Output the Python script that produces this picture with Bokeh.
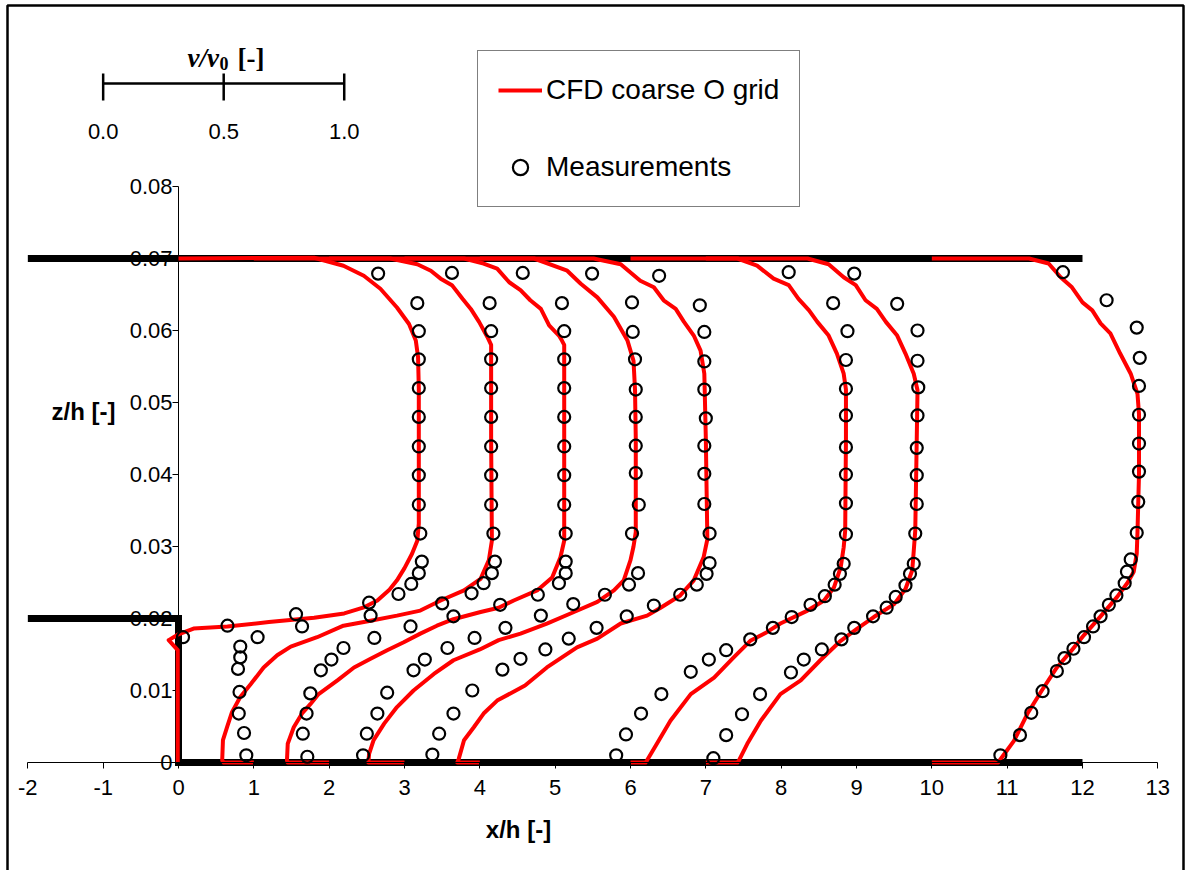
from bokeh.plotting import figure
from bokeh.models import (Range1d, FixedTicker, NumeralTickFormatter, Label,
                          Legend, LegendItem)
from bokeh.embed import file_html
from bokeh.resources import INLINE
from bokeh.core.properties import value

# ---------------- data (x/h position of profile, z/h) ----------------
cfd0_x = [-0.01, -0.01, -0.13, 0.0, 0.2, 0.65, 1.2, 1.8, 2.2, 2.45, 2.64, 2.8, 2.9, 3.0, 3.1, 3.17, 3.19, 3.19, 3.19, 3.18, 3.15, 3.06, 2.9, 2.68, 2.46, 2.19, 1.8, 0.0]
cfd0_z = [0.0, 0.0156, 0.0170, 0.0178, 0.0186, 0.0189, 0.0195, 0.0201, 0.0207, 0.0215, 0.0225, 0.0240, 0.0253, 0.0270, 0.0290, 0.0308, 0.0332, 0.0450, 0.0519, 0.0563, 0.0586, 0.0609, 0.0632, 0.0658, 0.0676, 0.0690, 0.0701, 0.0700]

cfd1_x = [1.0, 0.60, 0.58, 0.59, 0.65, 0.71, 0.82, 0.96, 1.13, 1.31, 1.49, 1.84, 2.19, 2.55, 2.90, 3.21, 3.48, 3.79, 4.01, 4.12, 4.16, 4.15, 4.15, 4.10, 3.99, 3.88, 3.77, 3.63, 3.48, 3.35, 3.17, 2.81, 1.0]
cfd1_z = [0.0, 0.0, 0.0003, 0.0031, 0.0051, 0.0070, 0.0091, 0.0109, 0.0132, 0.0149, 0.0161, 0.0174, 0.0190, 0.0197, 0.0204, 0.0211, 0.0225, 0.0239, 0.0255, 0.0281, 0.0308, 0.0450, 0.0580, 0.0591, 0.0612, 0.0630, 0.0644, 0.0663, 0.0672, 0.0683, 0.0692, 0.0700, 0.0700]

cfd2_x = [2.0, 1.45, 1.44, 1.45, 1.53, 1.64, 1.75, 1.86, 2.11, 2.33, 2.55, 2.77, 2.99, 3.21, 3.43, 3.65, 4.01, 4.25, 4.45, 4.76, 4.96, 5.07, 5.12, 5.12, 5.12, 5.09, 5.05, 4.92, 4.81, 4.67, 4.54, 4.39, 4.23, 4.05, 3.79, 2.0]
cfd2_z = [0.0, 0.0, 0.0003, 0.0026, 0.0049, 0.0068, 0.0081, 0.0095, 0.0114, 0.0132, 0.0144, 0.0156, 0.0167, 0.0179, 0.0190, 0.0199, 0.0209, 0.0215, 0.0225, 0.0239, 0.0257, 0.0285, 0.0308, 0.0450, 0.0580, 0.0586, 0.0593, 0.0607, 0.0630, 0.0642, 0.0656, 0.0667, 0.0686, 0.0693, 0.0700, 0.0700]

cfd3_x = [3.0, 2.52, 2.53, 2.59, 2.73, 2.90, 3.12, 3.39, 3.65, 4.00, 4.25, 4.54, 4.89, 5.25, 5.56, 5.78, 5.91, 6.00, 6.04, 6.07, 6.07, 6.06, 6.04, 5.96, 5.78, 5.56, 5.34, 5.16, 4.72, 3.0]
cfd3_z = [0.0, 0.0, 0.0012, 0.0031, 0.0054, 0.0077, 0.0100, 0.0123, 0.0142, 0.0157, 0.0170, 0.0179, 0.0193, 0.0209, 0.0223, 0.0239, 0.0253, 0.0281, 0.0300, 0.0320, 0.0450, 0.0518, 0.0558, 0.0586, 0.0619, 0.0646, 0.0665, 0.0683, 0.0700, 0.0700]

cfd4_x = [4.0, 3.70, 3.72, 3.79, 3.92, 4.05, 4.23, 4.60, 4.89, 5.29, 5.56, 5.87, 6.22, 6.40, 6.66, 6.84, 6.97, 7.02, 7.00, 6.98, 6.93, 6.84, 6.71, 6.60, 6.44, 6.31, 6.13, 5.87, 5.51, 4.0]
cfd4_z = [0.0, 0.0, 0.0005, 0.0031, 0.0049, 0.0068, 0.0086, 0.0107, 0.0132, 0.0160, 0.0172, 0.0193, 0.0204, 0.0215, 0.0232, 0.0253, 0.0285, 0.0310, 0.0450, 0.0540, 0.0572, 0.0593, 0.0612, 0.0630, 0.0642, 0.0660, 0.0669, 0.0692, 0.0700, 0.0700]

cfd6_x = [6.0, 6.20, 6.22, 6.35, 6.53, 6.80, 7.11, 7.37, 7.59, 7.81, 7.99, 8.35, 8.57, 8.70, 8.79, 8.83, 8.85, 8.86, 8.86, 8.83, 8.74, 8.63, 8.48, 8.37, 8.23, 8.10, 7.90, 7.68, 7.42, 6.0]
cfd6_z = [0.0, 0.0, 0.0003, 0.0026, 0.0058, 0.0095, 0.0118, 0.0146, 0.0169, 0.0181, 0.0193, 0.0211, 0.0225, 0.0243, 0.0271, 0.0299, 0.0322, 0.0450, 0.0518, 0.0540, 0.0568, 0.0593, 0.0612, 0.0628, 0.0644, 0.0663, 0.0672, 0.0690, 0.0700, 0.0700]

cfd7_x = [7.0, 7.42, 7.44, 7.55, 7.73, 7.99, 8.26, 8.52, 8.79, 9.01, 9.23, 9.50, 9.65, 9.74, 9.76, 9.78, 9.80, 9.81, 9.76, 9.65, 9.54, 9.39, 9.27, 9.12, 8.99, 8.83, 8.63, 8.35, 7.0]
cfd7_z = [0.0, 0.0, 0.0003, 0.0026, 0.0058, 0.0095, 0.0114, 0.0142, 0.0169, 0.0186, 0.0202, 0.0220, 0.0241, 0.0267, 0.0294, 0.0322, 0.0450, 0.0517, 0.0540, 0.0568, 0.0593, 0.0612, 0.0630, 0.0642, 0.0663, 0.0674, 0.0692, 0.0700, 0.0700]

cfd10_x = [10.0, 10.88, 10.95, 11.09, 11.27, 11.46, 11.66, 11.85, 12.02, 12.24, 12.46, 12.60, 12.68, 12.72, 12.73, 12.75, 12.75, 12.73, 12.64, 12.50, 12.37, 12.24, 12.13, 12.00, 11.86, 11.71, 11.55, 11.29, 10.0]
cfd10_z = [0.0, 0.0, 0.0010, 0.0030, 0.0068, 0.0100, 0.0132, 0.0155, 0.0177, 0.0203, 0.0230, 0.0250, 0.0265, 0.0290, 0.0320, 0.0400, 0.0484, 0.0512, 0.0540, 0.0568, 0.0596, 0.0610, 0.0628, 0.0639, 0.0660, 0.0674, 0.0693, 0.0700, 0.0700]

meas0_x = [0.06, 0.65, 1.56, 2.53, 2.92, 3.09, 3.19, 3.23, 3.21, 3.19, 3.19, 3.19, 3.19, 3.19, 3.19, 3.19, 3.17, 2.65]
meas0_z = [0.0174, 0.0190, 0.0206, 0.0222, 0.0234, 0.0248, 0.0263, 0.0279, 0.0318, 0.0358, 0.0399, 0.0439, 0.0480, 0.0520, 0.0560, 0.0599, 0.0638, 0.0679]

meas1_x = [0.90, 0.87, 0.80, 0.81, 0.79, 0.82, 0.82, 1.05, 1.64, 2.55, 3.50, 3.89, 4.05, 4.16, 4.20, 4.18, 4.15, 4.15, 4.15, 4.15, 4.15, 4.15, 4.15, 4.13, 3.63]
meas1_z = [0.0010, 0.0041, 0.0068, 0.0098, 0.0130, 0.0146, 0.0161, 0.0174, 0.0189, 0.0204, 0.0221, 0.0235, 0.0249, 0.0263, 0.0279, 0.0318, 0.0358, 0.0399, 0.0439, 0.0480, 0.0520, 0.0560, 0.0599, 0.0638, 0.0680]

meas2_x = [1.71, 1.65, 1.70, 1.75, 1.89, 2.03, 2.19, 2.60, 3.08, 3.65, 4.27, 4.77, 5.05, 5.14, 5.14, 5.14, 5.12, 5.12, 5.12, 5.12, 5.12, 5.12, 5.12, 5.09, 4.57]
meas2_z = [0.0008, 0.0040, 0.0068, 0.0096, 0.0128, 0.0143, 0.0159, 0.0173, 0.0189, 0.0203, 0.0219, 0.0233, 0.0249, 0.0263, 0.0279, 0.0318, 0.0358, 0.0399, 0.0439, 0.0480, 0.0520, 0.0560, 0.0599, 0.0638, 0.0680]

meas3_x = [2.45, 2.50, 2.64, 2.77, 3.12, 3.27, 3.57, 3.93, 4.34, 4.81, 5.24, 5.66, 5.98, 6.10, 6.02, 6.11, 6.07, 6.07, 6.07, 6.07, 6.06, 6.03, 6.02, 5.49]
meas3_z = [0.0010, 0.0040, 0.0068, 0.0097, 0.0128, 0.0143, 0.0159, 0.0173, 0.0187, 0.0204, 0.0220, 0.0233, 0.0247, 0.0263, 0.0318, 0.0358, 0.0402, 0.0440, 0.0480, 0.0518, 0.0560, 0.0598, 0.0639, 0.0679]

meas4_x = [3.37, 3.46, 3.65, 3.90, 4.30, 4.54, 4.87, 5.18, 5.55, 5.95, 6.31, 6.66, 6.88, 7.01, 7.05, 7.05, 6.98, 6.98, 6.98, 7.00, 6.98, 6.98, 6.98, 6.92, 6.38]
meas4_z = [0.0011, 0.0040, 0.0068, 0.0100, 0.0129, 0.0144, 0.0157, 0.0172, 0.0187, 0.0203, 0.0218, 0.0233, 0.0247, 0.0262, 0.0277, 0.0318, 0.0359, 0.0401, 0.0440, 0.0478, 0.0518, 0.0557, 0.0598, 0.0635, 0.0676]

meas6_x = [5.81, 5.94, 6.14, 6.41, 6.80, 7.04, 7.27, 7.59, 7.89, 8.14, 8.39, 8.58, 8.71, 8.78, 8.83, 8.86, 8.86, 8.86, 8.86, 8.86, 8.86, 8.86, 8.88, 8.69, 8.10]
meas6_z = [0.0010, 0.0039, 0.0068, 0.0095, 0.0126, 0.0143, 0.0156, 0.0171, 0.0187, 0.0202, 0.0219, 0.0231, 0.0247, 0.0262, 0.0276, 0.0317, 0.0360, 0.0400, 0.0438, 0.0482, 0.0519, 0.0559, 0.0599, 0.0638, 0.0681]

meas7_x = [7.10, 7.27, 7.48, 7.72, 8.13, 8.30, 8.54, 8.80, 8.97, 9.22, 9.40, 9.52, 9.65, 9.71, 9.76, 9.78, 9.80, 9.80, 9.80, 9.81, 9.82, 9.81, 9.81, 9.54, 8.97]
meas7_z = [0.0006, 0.0038, 0.0067, 0.0095, 0.0125, 0.0143, 0.0157, 0.0171, 0.0187, 0.0203, 0.0215, 0.0230, 0.0246, 0.0262, 0.0276, 0.0318, 0.0359, 0.0399, 0.0437, 0.0482, 0.0521, 0.0558, 0.0600, 0.0637, 0.0679]

meas10_x = [10.91, 11.17, 11.32, 11.47, 11.66, 11.76, 11.88, 12.02, 12.14, 12.24, 12.35, 12.45, 12.56, 12.59, 12.64, 12.72, 12.74, 12.75, 12.75, 12.75, 12.75, 12.76, 12.72, 12.32, 11.74]
meas10_z = [0.0010, 0.0038, 0.0069, 0.0099, 0.0127, 0.0145, 0.0158, 0.0174, 0.0189, 0.0203, 0.0219, 0.0232, 0.0249, 0.0265, 0.0282, 0.0319, 0.0362, 0.0404, 0.0443, 0.0483, 0.0523, 0.0562, 0.0604, 0.0642, 0.0681]

# channel walls
wall_top_x = [-2, 12]
wall_top_z = [0.07, 0.07]
wall_low_x = [-2, 0, 0, 12]
wall_low_z = [0.02, 0.02, 0.0, 0.0]

# axes
x_ticks = list(range(-2, 14))
z_ticks = [0.0, 0.01, 0.02, 0.03, 0.04, 0.05, 0.06, 0.07, 0.08]

# velocity scale bar (v/v0), drawn at x = scale_origin + scale_factor * v
scale_ticks = [0.0, 0.5, 1.0]
scale_labels = ["0.0", "0.5", "1.0"]
scale_origin = -1.0
scale_factor = 3.2

cfd_series = [(cfd0_x, cfd0_z), (cfd1_x, cfd1_z), (cfd2_x, cfd2_z), (cfd3_x, cfd3_z),
              (cfd4_x, cfd4_z), (cfd6_x, cfd6_z), (cfd7_x, cfd7_z), (cfd10_x, cfd10_z)]
meas_series = [(meas0_x, meas0_z), (meas1_x, meas1_z), (meas2_x, meas2_z), (meas3_x, meas3_z),
               (meas4_x, meas4_z), (meas6_x, meas6_z), (meas7_x, meas7_z), (meas10_x, meas10_z)]

# ---------------- layout helpers (pixel -> data) ----------------
W, H = 1188, 870
PX0, PXU = 178.0, 75.333     # pixel of x=0, pixels per x unit
PY0, PYU = 762.0, 7200.0     # pixel of z=0, pixels per z unit


def px2x(px):
    return (px - PX0) / PXU


def py2z(py):
    return (PY0 - py) / PYU


FONT = "Liberation Sans"
SERIF = "Liberation Serif"

p = figure(width=W, height=H, output_backend="svg", toolbar_location=None,
           x_range=Range1d(px2x(0), px2x(W)), y_range=Range1d(py2z(H), py2z(0)),
           min_border=0, title=None)
p.background_fill_color = "white"
p.border_fill_color = "white"
p.outline_line_color = None
p.xgrid.visible = False
p.ygrid.visible = False

# x axis at z = 0
xa = p.xaxis[0]
xa.fixed_location = 0
xa.bounds = (-2, 13)
xa.ticker = FixedTicker(ticks=x_ticks)
xa.major_label_overrides = {t: str(t) for t in x_ticks}
xa.major_tick_out = 6
xa.major_tick_in = 0
xa.minor_tick_out = 0
xa.minor_tick_in = 0
xa.major_label_standoff = 11
xa.major_label_text_font = FONT
xa.major_label_text_font_size = "22px"
xa.major_label_text_color = "black"
xa.axis_line_color = "black"
xa.major_tick_line_color = "black"

# y axis at x = 0
ya = p.yaxis[0]
ya.fixed_location = 0
ya.bounds = (0, 0.08)
ya.ticker = FixedTicker(ticks=z_ticks)
ya.formatter = NumeralTickFormatter(format="0.[00]")
ya.major_tick_out = 6
ya.major_tick_in = 0
ya.minor_tick_out = 0
ya.minor_tick_in = 0
ya.major_label_standoff = 0
ya.major_label_text_font = FONT
ya.major_label_text_font_size = "22px"
ya.major_label_text_color = "black"
ya.axis_line_color = "black"
ya.major_tick_line_color = "black"
ya.level = "underlay"

# outer frame of the picture
p.line([px2x(7), px2x(7), px2x(1183), px2x(1183)],
       [py2z(H + 5), py2z(5), py2z(5), py2z(H + 5)], line_color="black", line_width=2.5)

# walls
p.line(wall_top_x, wall_top_z, line_color="black", line_width=7)
p.line(wall_low_x, wall_low_z, line_color="black", line_width=7, line_join="miter")

# CFD profiles
cfd_renderers = []
for xs, zs in cfd_series:
    r = p.line(xs, zs, line_color="#ff0000", line_width=4, line_join="round")
    cfd_renderers.append(r)

# measurements
meas_renderers = []
for xs, zs in meas_series:
    r = p.scatter(xs, zs, marker="circle", size=12, fill_color=None,
                  line_color="black", line_width=2.2)
    meas_renderers.append(r)

# velocity scale bar
sx = [scale_origin + scale_factor * v for v in scale_ticks]
bar_z = py2z(83)
p.line([sx[0], sx[-1]], [bar_z, bar_z], line_color="black", line_width=2.5)
p.segment(x0=sx, y0=[py2z(73)] * len(sx), x1=sx, y1=[py2z(100)] * len(sx),
          line_color="black", line_width=2.5)
p.text(x=sx, y=[py2z(131)] * len(sx), text=scale_labels, text_font=value(FONT),
       text_font_size="22px", text_align="center", text_baseline="middle", text_color="black")

# scale title v/v0 [-]
p.add_layout(Label(x=px2x(187), y=py2z(57), text="v/v", text_font=SERIF,
                   text_font_style="bold italic", text_font_size="27px", text_color="black",
                   text_baseline="alphabetic", text_align="left"))
p.add_layout(Label(x=px2x(219), y=py2z(63), text="0", text_font=SERIF,
                   text_font_style="bold", text_font_size="18px", text_color="black",
                   text_baseline="alphabetic", text_align="left"))
p.add_layout(Label(x=px2x(237), y=py2z(57), text="[-]", text_font=SERIF,
                   text_font_style="bold", text_font_size="27px", text_color="black",
                   text_baseline="alphabetic", text_align="left"))

# axis titles
p.add_layout(Label(x=px2x(83), y=py2z(411), text="z/h [-]", text_font=FONT,
                   text_font_style="bold", text_font_size="24px", text_color="black",
                   text_align="center", text_baseline="middle"))
p.add_layout(Label(x=px2x(518), y=py2z(829), text="x/h [-]", text_font=FONT,
                   text_font_style="bold", text_font_size="24px", text_color="black",
                   text_align="center", text_baseline="middle"))

# legend
legend = Legend(items=[LegendItem(label="CFD coarse O grid", renderers=[cfd_renderers[0]]),
                       LegendItem(label="Measurements", renderers=[meas_renderers[0]])],
                location=(477, H - 207), orientation="vertical",
                glyph_width=44, glyph_height=38, spacing=39, padding=20, label_standoff=4,
                label_text_font=FONT, label_text_font_size="28px", label_text_color="black",
                border_line_color="black", border_line_width=1.5,
                background_fill_color="white", background_fill_alpha=1.0, margin=0)
p.add_layout(legend)

open("out.html", "w").write(file_html(p, INLINE))
